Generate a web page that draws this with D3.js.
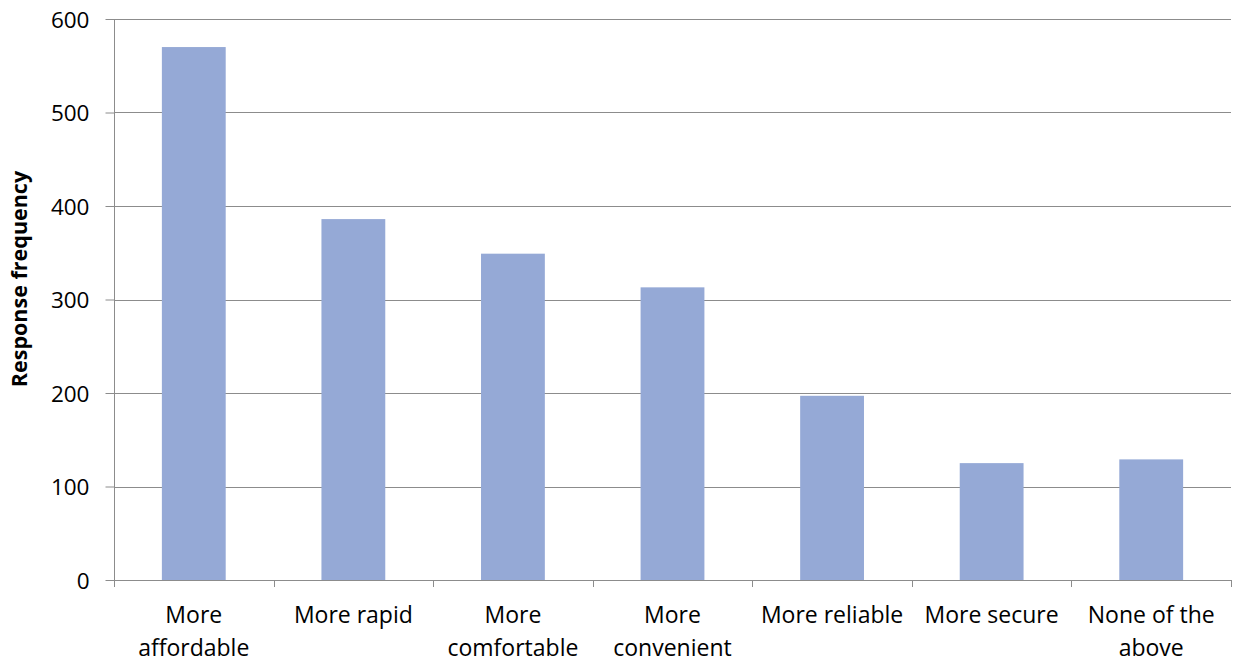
<!DOCTYPE html>
<html><head><meta charset="utf-8">
<script src="https://cdn.jsdelivr.net/npm/d3@7"></script>
<style>body{margin:0;background:#fff;} svg{display:block;}</style>
</head><body>
<svg id="c" width="1234" height="663"></svg>
<script>
const categories = ["More affordable","More rapid","More comfortable","More convenient","More reliable","More secure","None of the above"];
const labelLines = [["More","affordable"],["More rapid"],["More","comfortable"],["More","convenient"],["More reliable"],["More secure"],["None of the","above"]];
const values = [570, 386, 349, 313, 197, 125, 129];
const yTicks = [0,100,200,300,400,500,600];

const svg = d3.select("#c");
const m = {left:114, right:1231, top:19, bottom:580};
const x = d3.scaleBand().domain(categories).range([m.left, m.right]).paddingInner(0.6).paddingOuter(0.3);
const y = d3.scaleLinear().domain([0,600]).range([m.bottom, m.top]);
const font = "'Open Sans', sans-serif";

// gridlines
svg.append("g").selectAll("line").data(yTicks.filter(d=>d>0)).join("line")
  .attr("x1", m.left).attr("x2", m.right)
  .attr("y1", d=>Math.round(y(d))+0.5).attr("y2", d=>Math.round(y(d))+0.5)
  .attr("stroke", "#8c8c8c").attr("stroke-width", 1);

// bars
svg.append("g").selectAll("rect").data(values).join("rect")
  .attr("x", (d,i)=>x(categories[i]))
  .attr("width", x.bandwidth())
  .attr("y", d=>y(d))
  .attr("height", d=>y(0)-y(d))
  .attr("fill", "#95a9d6");

// y axis
const ya = svg.append("g").attr("transform", `translate(${m.left+0.5},0)`)
  .call(d3.axisLeft(y).tickValues(yTicks).tickSize(9).tickPadding(16));
ya.select(".domain").attr("stroke", "#8c8c8c").attr("d", `M0,${m.top}V${m.bottom}`);
ya.selectAll(".tick line").attr("stroke", "#8c8c8c");
ya.selectAll("text").attr("font-family", font).attr("font-size", 22.5).attr("fill", "#000").attr("dy","0.36em");

// x axis baseline
svg.append("line").attr("x1", m.left).attr("x2", m.right)
  .attr("y1", m.bottom+0.5).attr("y2", m.bottom+0.5).attr("stroke", "#8c8c8c");
// category boundary ticks
const step = x.step();
const bounds = d3.range(categories.length+1).map(i => m.left + i*step);
svg.append("g").selectAll("line").data(bounds).join("line")
  .attr("x1", d=>Math.round(d)+0.5).attr("x2", d=>Math.round(d)+0.5)
  .attr("y1", m.bottom).attr("y2", m.bottom+7).attr("stroke", "#8c8c8c");

// x labels
const xl = svg.append("g");
labelLines.forEach((lines, i) => {
  const cx = x(categories[i]) + x.bandwidth()/2;
  const t = xl.append("text").attr("x", cx).attr("y", 623)
    .attr("text-anchor", "middle").attr("font-family", font).attr("font-size", 23).attr("fill", "#000");
  lines.forEach((ln, j) => t.append("tspan").attr("x", cx).attr("dy", j===0?0:33).text(ln));
});

// y title
svg.append("text").attr("transform", `translate(27,279) rotate(-90)`)
  .attr("text-anchor", "middle").attr("font-family", font).attr("font-size", 21.5).attr("font-weight", "bold")
  .text("Response frequency");
</script>
</body></html>
